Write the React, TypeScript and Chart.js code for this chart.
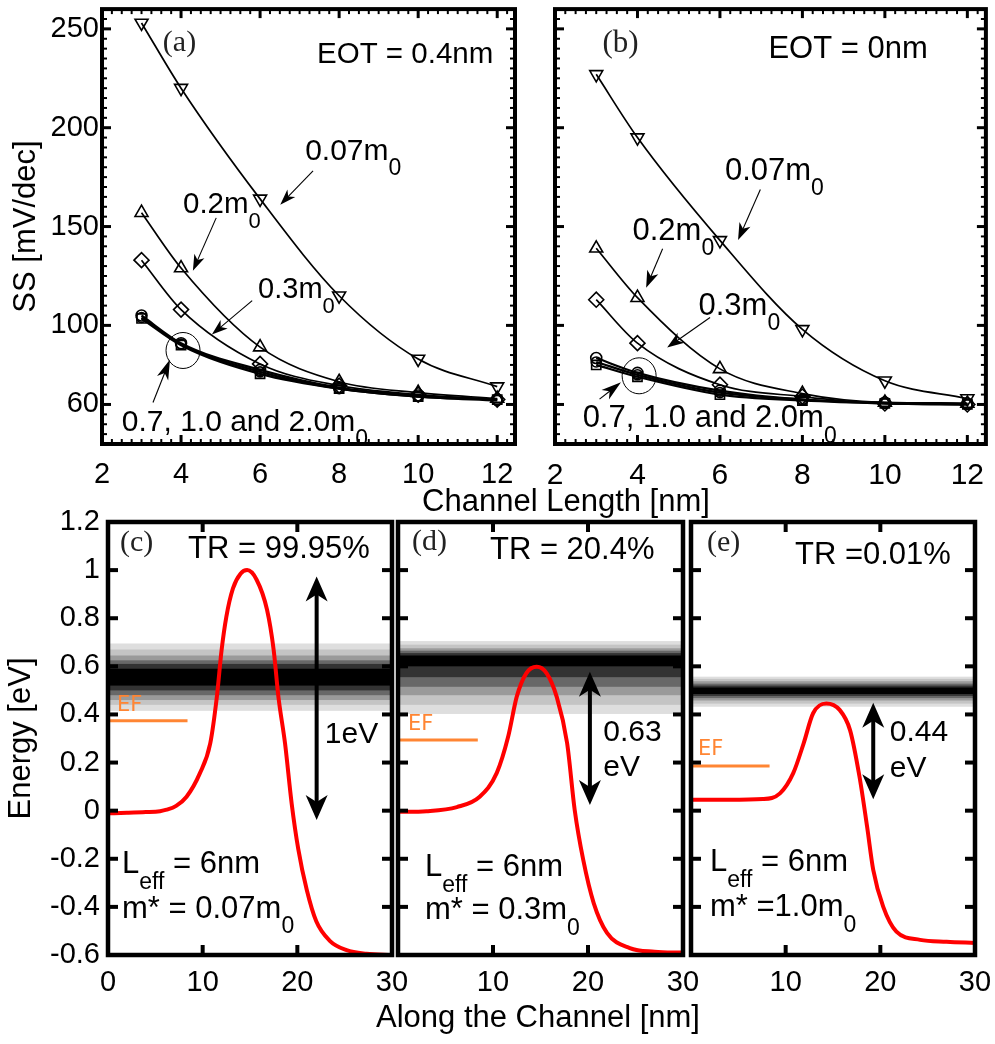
import React, { useEffect, useRef } from 'react';
import { Chart, registerables } from 'chart.js';

Chart.register(...registerables);

const SANS = '"Liberation Sans", Arial, Helvetica, sans-serif';
const SERIF = '"Liberation Serif", "Times New Roman", serif';
const EF_FONT = '"DejaVu Sans", Verdana, sans-serif';
const ORANGE = '#ff8533';

// ---------------- data: panels (a) and (b) ----------------
const channelLengths = [3, 4, 6, 8, 10, 12];
const lengthTicks = [2, 4, 6, 8, 10, 12];
const ssTicks = [60, 100, 150, 200, 250];
const massLabels = ['0.07m0', '0.2m0', '0.3m0', '0.7m0', '1.0m0', '2.0m0'];

// EOT = 0.4 nm
const ssEot04_m007 = [253, 220, 164, 115, 83, 69];
const ssEot04_m02 = [157, 129, 89, 71.5, 66, 63];
const ssEot04_m03 = [133, 108, 80.5, 69.5, 65, 62.5];
const ssEot04_m07 = [105, 91, 77.5, 68.5, 64.5, 62.5];
const ssEot04_m10 = [103.5, 90, 75.5, 68, 64, 62.5];
const ssEot04_m20 = [104, 90.5, 76.5, 68, 64, 62];

// EOT = 0 nm
const ssEot0_m007 = [227, 195, 143, 98, 72, 63];
const ssEot0_m02 = [139, 114, 78, 65.5, 61, 60.5];
const ssEot0_m03 = [113, 91, 70, 64, 60.5, 60];
const ssEot0_m07 = [83.5, 76, 67, 62.5, 61, 60.5];
const ssEot0_m10 = [80, 74, 65, 62, 60.5, 60];
const ssEot0_m20 = [81.5, 75, 66, 62.5, 60.5, 60];

// ---------------- data: panels (c), (d), (e) ----------------
const energyTicks = [-0.6, -0.4, -0.2, 0, 0.2, 0.4, 0.6, 0.8, 1, 1.2];
const positionTicks = [0, 10, 20, 30];

const barrierC_pos = [0, 2, 4, 5.5, 6.2, 7.2, 8.3, 9.7, 10.8, 11.5, 12.0, 12.5, 13.2, 14.0, 14.7, 15.7, 16.8, 17.5, 18.0, 18.7, 19.4, 20.1, 21.0, 22.0, 23.4, 25.2, 27.3, 30];
const barrierC_energy = [-0.011, -0.009, -0.006, -0.002, 0.004, 0.02, 0.058, 0.155, 0.28, 0.474, 0.668, 0.806, 0.924, 0.985, 1.0, 0.96, 0.835, 0.668, 0.474, 0.28, 0.03, -0.16, -0.33, -0.46, -0.54, -0.58, -0.595, -0.6];

const barrierD_pos = [0, 3, 6.2, 8.6, 10.4, 11.6, 12.5, 13.5, 14.6, 15.65, 16.7, 17.8, 18.6, 19.5, 20.6, 22, 24.4, 27, 30];
const barrierD_energy = [-0.005, -0.002, 0.015, 0.058, 0.157, 0.308, 0.474, 0.571, 0.598, 0.571, 0.474, 0.281, 0.003, -0.205, -0.384, -0.508, -0.571, -0.586, -0.59];

const barrierE_pos = [0, 4, 7.6, 9.4, 10.8, 11.9, 12.9, 14.3, 15.7, 16.8, 17.8, 18.6, 19.25, 20.3, 21.7, 24.2, 27, 30];
const barrierE_energy = [0.045, 0.045, 0.048, 0.072, 0.156, 0.28, 0.405, 0.446, 0.419, 0.335, 0.141, -0.066, -0.246, -0.399, -0.503, -0.537, -0.545, -0.55];

const fermiLevels = [0.374, 0.294, 0.186];
const fermiEnds = [8.4, 8.4, 8.3];

// transmission band (energy ranges, drawn from outer to inner level)
const bandC_lo = [0.415, 0.44, 0.46, 0.48, 0.5, 0.52];
const bandC_hi = [0.695, 0.67, 0.645, 0.625, 0.61, 0.59];
const bandD_lo = [0.402, 0.44, 0.48, 0.515, 0.555, 0.6];
const bandD_hi = [0.705, 0.69, 0.675, 0.665, 0.655, 0.645];
const bandE_lo = [0.432, 0.445, 0.458, 0.468, 0.477, 0.485];
const bandE_hi = [0.557, 0.548, 0.538, 0.528, 0.52, 0.512];
const bandShades = ['#dedede', '#c4c4c4', '#9a9a9a', '#686868', '#333333', '#000000'];

// ---------------- decoration plugin ----------------
type Seg = { t: string; sub?: boolean };
type TextA = { x: number; y: number; segs: Seg[]; size: number; family?: string; color?: string; align?: 'left' | 'right'; cap?: number };
type ArrowA = { x1: number; y1: number; x2: number; y2: number; len: number; half: number };
type DblA = { x: number; y1: number; y2: number };
type EllA = { x: number; y: number; rx: number; ry: number };
type Decor = {
  texts: TextA[];
  arrows?: ArrowA[];
  dbl?: DblA[];
  ellipses?: EllA[];
  band?: { lo: number[]; hi: number[] };
  frameWidth: number;
  tickLen: number;
  tickWidth: number;
  minorX?: number;
  minorY?: number;
};

function head(ctx: CanvasRenderingContext2D, tx: number, ty: number, ang: number, len: number, half: number) {
  const c = Math.cos(ang), s = Math.sin(ang);
  const bx = tx - c * len, by = ty - s * len;
  const nx = -s, ny = c;
  const kx = tx - c * len * 0.72, ky = ty - s * len * 0.72;
  ctx.beginPath();
  ctx.moveTo(tx, ty);
  ctx.lineTo(bx + nx * half, by + ny * half);
  ctx.lineTo(kx, ky);
  ctx.lineTo(bx - nx * half, by - ny * half);
  ctx.closePath();
  ctx.fill();
}

function makeDecor(d: Decor) {
  return {
    id: 'decor',
    beforeDatasetsDraw(chart: any) {
      const { ctx, chartArea: ca, scales } = chart;
      if (!d.band) return;
      ctx.save();
      ctx.beginPath();
      ctx.rect(ca.left, ca.top, ca.right - ca.left, ca.bottom - ca.top);
      ctx.clip();
      d.band.lo.forEach((lo, i) => {
        const p1 = scales.y.getPixelForValue(d.band!.hi[i]);
        const p2 = scales.y.getPixelForValue(lo);
        ctx.fillStyle = bandShades[i];
        ctx.fillRect(ca.left, p1, ca.right - ca.left, p2 - p1);
      });
      ctx.restore();
    },
    afterDraw(chart: any) {
      const { ctx, chartArea: ca, scales } = chart;
      const xs = scales.x, ys = scales.y;
      ctx.save();
      ctx.fillStyle = '#000';
      ctx.strokeStyle = '#000';
      (d.ellipses || []).forEach((e) => {
        ctx.lineWidth = 1;
        ctx.beginPath();
        ctx.ellipse(xs.getPixelForValue(e.x), ys.getPixelForValue(e.y), e.rx, e.ry, 0, 0, Math.PI * 2);
        ctx.stroke();
      });
      (d.arrows || []).forEach((a) => {
        const x1 = xs.getPixelForValue(a.x1), y1 = ys.getPixelForValue(a.y1);
        const x2 = xs.getPixelForValue(a.x2), y2 = ys.getPixelForValue(a.y2);
        const ang = Math.atan2(y2 - y1, x2 - x1);
        ctx.lineWidth = 1.1;
        ctx.beginPath();
        ctx.moveTo(x1, y1);
        ctx.lineTo(x2 - Math.cos(ang) * a.len * 0.6, y2 - Math.sin(ang) * a.len * 0.6);
        ctx.stroke();
        head(ctx, x2, y2, ang, a.len, a.half);
      });
      (d.dbl || []).forEach((a) => {
        const x = xs.getPixelForValue(a.x);
        const yt = ys.getPixelForValue(a.y1), yb = ys.getPixelForValue(a.y2);
        ctx.lineWidth = 4;
        ctx.beginPath();
        ctx.moveTo(x, yt + 16);
        ctx.lineTo(x, yb - 16);
        ctx.stroke();
        head(ctx, x, yt, -Math.PI / 2, 25, 11);
        head(ctx, x, yb, Math.PI / 2, 25, 11);
      });
      d.texts.forEach((t) => {
        const fam = t.family || SANS;
        const subSize = Math.round(t.size * 0.75);
        let w = 0;
        t.segs.forEach((s) => {
          ctx.font = `${s.sub ? subSize : t.size}px ${fam}`;
          w += ctx.measureText(s.t).width;
        });
        let px = xs.getPixelForValue(t.x);
        if (t.align === 'right') px -= w;
        const base = ys.getPixelForValue(t.y) + (t.cap ?? 0.716) * t.size / 2;
        ctx.fillStyle = t.color || '#000';
        ctx.textBaseline = 'alphabetic';
        ctx.textAlign = 'left';
        t.segs.forEach((s) => {
          ctx.font = `${s.sub ? subSize : t.size}px ${fam}`;
          ctx.fillText(s.t, px, s.sub ? base + t.size * 0.5 : base);
          px += ctx.measureText(s.t).width;
        });
      });
      ctx.strokeStyle = '#000';
      ctx.lineWidth = d.frameWidth;
      ctx.strokeRect(ca.left, ca.top, ca.right - ca.left, ca.bottom - ca.top);
      const line = (a: number, b: number, c: number, e: number) => {
        ctx.beginPath();
        ctx.moveTo(a, b);
        ctx.lineTo(c, e);
        ctx.stroke();
      };
      const majX = xs.ticks.map((t: any) => t.value);
      const majY = ys.ticks.map((t: any) => t.value);
      ctx.lineWidth = d.tickWidth;
      majX.forEach((v: number) => {
        const p = xs.getPixelForValue(v);
        if (p <= ca.left + 3 || p >= ca.right - 3) return;
        line(p, ca.bottom, p, ca.bottom - d.tickLen);
        line(p, ca.top, p, ca.top + d.tickLen);
      });
      majY.forEach((v: number) => {
        const p = ys.getPixelForValue(v);
        if (p <= ca.top + 3 || p >= ca.bottom - 3) return;
        line(ca.left, p, ca.left + d.tickLen, p);
        line(ca.right, p, ca.right - d.tickLen, p);
      });
      ctx.lineWidth = 2;
      const ml = 5;
      if (d.minorX) {
        for (let k = Math.ceil(xs.min / d.minorX); k * d.minorX <= xs.max; k++) {
          const v = k * d.minorX;
          if (majX.some((m: number) => Math.abs(m - v) < 1e-6)) continue;
          const p = xs.getPixelForValue(v);
          if (p <= ca.left + 3 || p >= ca.right - 3) continue;
          line(p, ca.bottom, p, ca.bottom - ml);
          line(p, ca.top, p, ca.top + ml);
        }
      }
      if (d.minorY) {
        for (let k = Math.ceil(ys.min / d.minorY); k * d.minorY <= ys.max; k++) {
          const v = k * d.minorY;
          if (majY.some((m: number) => Math.abs(m - v) < 1e-6)) continue;
          const p = ys.getPixelForValue(v);
          if (p <= ca.top + 3 || p >= ca.bottom - 3) continue;
          line(ca.left, p, ca.left + ml, p);
          line(ca.right, p, ca.right - ml, p);
        }
      }
      ctx.restore();
    },
  };
}

// ---------------- chart builders ----------------
const massStyles = [
  { style: 'triangle', rot: 180, r: 7.5, w: 1.7 },
  { style: 'triangle', rot: 0, r: 7.5, w: 1.7 },
  { style: 'rectRot', rot: 0, r: 7.5, w: 1.7 },
  { style: 'circle', rot: 0, r: 5.5, w: 2.2 },
  { style: 'rect', rot: 0, r: 6.5, w: 2.2 },
  { style: 'circle', rot: 0, r: 5, w: 2.2 },
];

function ssDatasets(series: number[][]) {
  return series.map((vals, i) => ({
    label: massLabels[i],
    data: channelLengths.map((x, j) => ({ x, y: vals[j] })),
    showLine: true,
    borderColor: '#000',
    borderWidth: massStyles[i].w,
    cubicInterpolationMode: 'monotone',
    pointStyle: massStyles[i].style,
    pointRotation: massStyles[i].rot,
    pointRadius: massStyles[i].r,
    pointBorderWidth: 1.6,
    pointBorderColor: '#000',
    pointBackgroundColor: 'rgba(0,0,0,0)',
  }));
}

const tickFont = { family: SANS, size: 29 };
const titleFont = { family: SANS, size: 31 };

function fixSize(w?: number, h?: number) {
  return (s: any) => {
    if (w !== undefined) s.width = w;
    if (h !== undefined) s.height = h;
    s.paddingLeft = 0;
    s.paddingRight = 0;
    s.paddingTop = 0;
    s.paddingBottom = 0;
  };
}

function topConfig(series: number[][], yWidth: number, showY: boolean, padRight: number, xTickSize: number, decor: Decor) {
  return {
    type: 'scatter',
    data: { datasets: ssDatasets(series) },
    plugins: [makeDecor(decor)],
    options: {
      responsive: false,
      animation: false,
      events: [],
      layout: { padding: { left: 0, top: 6, right: padRight, bottom: 0 } },
      plugins: { legend: { display: false }, tooltip: { enabled: false } },
      scales: {
        x: {
          type: 'linear',
          min: 2,
          max: 12.45,
          afterBuildTicks: (s: any) => { s.ticks = lengthTicks.map((v) => ({ value: v })); },
          afterFit: fixSize(undefined, 76),
          grid: { display: false, drawTicks: false },
          border: { display: false },
          ticks: { font: { family: SANS, size: xTickSize }, color: '#000', padding: 14, maxRotation: 0, autoSkip: false, callback: (v: any) => String(v) },
        },
        y: {
          type: 'linear',
          min: 40,
          max: 260,
          afterBuildTicks: (s: any) => { s.ticks = ssTicks.map((v) => ({ value: v })); },
          afterFit: fixSize(yWidth, undefined),
          grid: { display: false, drawTicks: false },
          border: { display: false },
          ticks: { display: showY, font: tickFont, color: '#000', padding: 3, autoSkip: false, callback: (v: any) => String(v) },
          title: { display: showY, text: 'SS [mV/dec]', font: titleFont, color: '#000', padding: { top: 7.5, bottom: 0 } },
        },
      },
    },
  };
}

function bottomConfig(idx: number, pos: number[], energy: number[], yWidth: number, showY: boolean, padRight: number, decor: Decor) {
  return {
    type: 'scatter',
    data: {
      datasets: [
        {
          label: 'EF',
          data: [{ x: 0, y: fermiLevels[idx] }, { x: fermiEnds[idx], y: fermiLevels[idx] }],
          showLine: true,
          borderColor: ORANGE,
          borderWidth: 3,
          pointRadius: 0,
        },
        {
          label: 'barrier',
          data: pos.map((x, j) => ({ x, y: energy[j] })),
          showLine: true,
          borderColor: '#ff0000',
          borderWidth: 4,
          pointRadius: 0,
          cubicInterpolationMode: 'monotone',
        },
      ],
    },
    plugins: [makeDecor(decor)],
    options: {
      responsive: false,
      animation: false,
      events: [],
      layout: { padding: { left: 0, top: 17, right: padRight, bottom: 0 } },
      plugins: { legend: { display: false }, tooltip: { enabled: false } },
      scales: {
        x: {
          type: 'linear',
          min: 0,
          max: 30,
          afterBuildTicks: (s: any) => { s.ticks = positionTicks.map((v) => ({ value: v })); },
          afterFit: fixSize(undefined, 89),
          grid: { display: false, drawTicks: false },
          border: { display: false },
          ticks: {
            font: tickFont, color: '#000', padding: 11, maxRotation: 0, autoSkip: false,
            callback: (v: any) => (idx > 0 && v === 0 ? '' : String(v)),
          },
        },
        y: {
          type: 'linear',
          min: -0.6,
          max: 1.2,
          afterBuildTicks: (s: any) => { s.ticks = energyTicks.map((v) => ({ value: v })); },
          afterFit: fixSize(yWidth, undefined),
          grid: { display: false, drawTicks: false },
          border: { display: false },
          ticks: { display: showY, font: tickFont, color: '#000', padding: 8, autoSkip: false, callback: (v: any) => String(Math.round(v * 10) / 10) },
          title: { display: showY, text: 'Energy [eV]', font: titleFont, color: '#000', padding: { top: 3, bottom: 0 } },
        },
      },
    },
  };
}

const sub0: Seg = { t: '0', sub: true };

const decorA: Decor = {
  texts: [
    { x: 3.54, y: 242.5, segs: [{ t: '(a)' }], size: 30, family: SERIF, color: '#222', cap: 0.51 },
    { x: 11.9, y: 238.3, segs: [{ t: 'EOT = 0.4nm' }], size: 29.5, align: 'right' },
    { x: 7.14, y: 189.3, segs: [{ t: '0.07m' }, sub0], size: 30 },
    { x: 4.05, y: 162, segs: [{ t: '0.2m' }, sub0], size: 29.5 },
    { x: 5.95, y: 119, segs: [{ t: '0.3m' }, sub0], size: 29 },
    { x: 2.5, y: 52, segs: [{ t: '0.7, 1.0 and 2.0m' }, sub0], size: 30 },
  ],
  arrows: [
    { x1: 7.34, y1: 178.2, x2: 6.51, y2: 161, len: 16, half: 5.5 },
    { x1: 4.89, y1: 154.4, x2: 4.3, y2: 127.7, len: 16, half: 5.5 },
    { x1: 5.8, y1: 112.5, x2: 4.78, y2: 95.4, len: 16, half: 5.5 },
    { x1: 3.29, y1: 61, x2: 3.72, y2: 82.7, len: 20, half: 6 },
  ],
  ellipses: [{ x: 4.05, y: 87.3, rx: 17, ry: 18 }],
  frameWidth: 4,
  tickLen: 9,
  tickWidth: 3,
  minorX: 0.25,
  minorY: 5,
};

const decorB: Decor = {
  texts: [
    { x: 3.15, y: 242.3, segs: [{ t: '(b)' }], size: 31, family: SERIF, color: '#222', cap: 0.51 },
    { x: 11.04, y: 241, segs: [{ t: 'EOT = 0nm' }], size: 31, align: 'right' },
    { x: 6.12, y: 179.2, segs: [{ t: '0.07m' }, sub0], size: 31 },
    { x: 3.88, y: 149, segs: [{ t: '0.2m' }, sub0], size: 31 },
    { x: 5.48, y: 111, segs: [{ t: '0.3m' }, sub0], size: 31 },
    { x: 2.67, y: 54, segs: [{ t: '0.7, 1.0 and 2.0m' }, sub0], size: 31 },
  ],
  arrows: [
    { x1: 6.98, y1: 168.7, x2: 6.44, y2: 143.2, len: 17, half: 6 },
    { x1: 4.61, y1: 138.8, x2: 4.21, y2: 119.1, len: 17, half: 6 },
    { x1: 5.76, y1: 104, x2: 4.72, y2: 88.8, len: 17, half: 6 },
    { x1: 3.08, y1: 62.7, x2: 3.6, y2: 71.2, len: 20, half: 6 },
  ],
  ellipses: [{ x: 4.04, y: 74.5, rx: 17, ry: 18 }],
  frameWidth: 4,
  tickLen: 9,
  tickWidth: 3,
  minorX: 0.25,
  minorY: 5,
};

const leff: Seg[] = [{ t: 'L' }, { t: 'eff', sub: true }, { t: ' = 6nm' }];

const decorC: Decor = {
  texts: [
    { x: 1.27, y: 1.113, segs: [{ t: '(c)' }], size: 30, family: SERIF, color: '#222', cap: 0.51 },
    { x: 8.45, y: 1.096, segs: [{ t: 'TR = 99.95%' }], size: 31 },
    { x: 1.48, y: -0.213, segs: leff, size: 31 },
    { x: 1.48, y: -0.4, segs: [{ t: 'm* = 0.07m' }, sub0], size: 31 },
    { x: 22.9, y: 0.328, segs: [{ t: '1eV' }], size: 30 },
    { x: 0.95, y: 0.448, segs: [{ t: 'EF' }], size: 21, family: EF_FONT, color: ORANGE, cap: 0.73 },
  ],
  dbl: [{ x: 22.04, y1: 0.973, y2: -0.039 }],
  band: { lo: bandC_lo, hi: bandC_hi },
  frameWidth: 4.5,
  tickLen: 10,
  tickWidth: 4,
};

const decorD: Decor = {
  texts: [
    { x: 1.47, y: 1.117, segs: [{ t: '(d)' }], size: 30, family: SERIF, color: '#222', cap: 0.51 },
    { x: 9.68, y: 1.092, segs: [{ t: 'TR = 20.4%' }], size: 31 },
    { x: 2.84, y: -0.226, segs: leff, size: 31 },
    { x: 2.84, y: -0.406, segs: [{ t: 'm* = 0.3m' }, sub0], size: 31 },
    { x: 21.6, y: 0.335, segs: [{ t: '0.63' }], size: 30 },
    { x: 21.6, y: 0.19, segs: [{ t: 'eV' }], size: 30 },
    { x: 1.05, y: 0.369, segs: [{ t: 'EF' }], size: 21, family: EF_FONT, color: ORANGE, cap: 0.73 },
  ],
  dbl: [{ x: 20.2, y1: 0.578, y2: 0.024 }],
  band: { lo: bandD_lo, hi: bandD_hi },
  frameWidth: 4.5,
  tickLen: 10,
  tickWidth: 4,
};

const decorE: Decor = {
  texts: [
    { x: 1.69, y: 1.113, segs: [{ t: '(e)' }], size: 30, family: SERIF, color: '#222', cap: 0.51 },
    { x: 10.98, y: 1.071, segs: [{ t: 'TR =0.01%' }], size: 31 },
    { x: 2.0, y: -0.205, segs: leff, size: 31 },
    { x: 2.0, y: -0.392, segs: [{ t: 'm* =1.0m' }, sub0], size: 31 },
    { x: 21.0, y: 0.335, segs: [{ t: '0.44' }], size: 30 },
    { x: 21.0, y: 0.183, segs: [{ t: 'eV' }], size: 30 },
    { x: 0.74, y: 0.265, segs: [{ t: 'EF' }], size: 21, family: EF_FONT, color: ORANGE, cap: 0.73 },
  ],
  dbl: [{ x: 19.25, y1: 0.449, y2: 0.047 }],
  band: { lo: bandE_lo, hi: bandE_hi },
  frameWidth: 4.5,
  tickLen: 10,
  tickWidth: 4,
};

function ChartCanvas(props: { left: number; top: number; width: number; height: number; build: () => any }) {
  const ref = useRef<HTMLCanvasElement>(null);
  useEffect(() => {
    const chart = new Chart(ref.current as HTMLCanvasElement, props.build());
    return () => chart.destroy();
  }, []);
  return (
    <canvas
      ref={ref}
      width={props.width}
      height={props.height}
      style={{ position: 'absolute', left: props.left, top: props.top, width: props.width, height: props.height, display: 'block' }}
    />
  );
}

const titleStyle = { position: 'absolute' as const, textAlign: 'center' as const, color: '#000', whiteSpace: 'nowrap' as const };

export default function App() {
  return (
    <div style={{ position: 'absolute', left: 0, top: 0, width: 995, height: 1044, background: '#fff', overflow: 'hidden' }}>
      <ChartCanvas left={0} top={0} width={540} height={520}
        build={() => topConfig([ssEot04_m007, ssEot04_m02, ssEot04_m03, ssEot04_m07, ssEot04_m10, ssEot04_m20], 102, true, 25, 29, decorA)} />
      <ChartCanvas left={540} top={0} width={455} height={520}
        build={() => topConfig([ssEot0_m007, ssEot0_m02, ssEot0_m03, ssEot0_m07, ssEot0_m10, ssEot0_m20], 15, false, 7, 30, decorB)} />
      <ChartCanvas left={0} top={505} width={420} height={539}
        build={() => bottomConfig(0, barrierC_pos, barrierC_energy, 108, true, 28, decorC)} />
      <ChartCanvas left={360} top={505} width={360} height={539}
        build={() => bottomConfig(1, barrierD_pos, barrierD_energy, 38, false, 37, decorD)} />
      <ChartCanvas left={670} top={505} width={325} height={539}
        build={() => bottomConfig(2, barrierE_pos, barrierE_energy, 21, false, 20, decorE)} />
      <div style={{ ...titleStyle, left: 366, top: 483, width: 400, font: `31px ${SANS}`, lineHeight: '36px' }}>
        Channel Length [nm]
      </div>
      <div style={{ ...titleStyle, left: 338, top: 999, width: 400, font: `31px ${SANS}`, lineHeight: '36px' }}>
        Along the Channel [nm]
      </div>
    </div>
  );
}
